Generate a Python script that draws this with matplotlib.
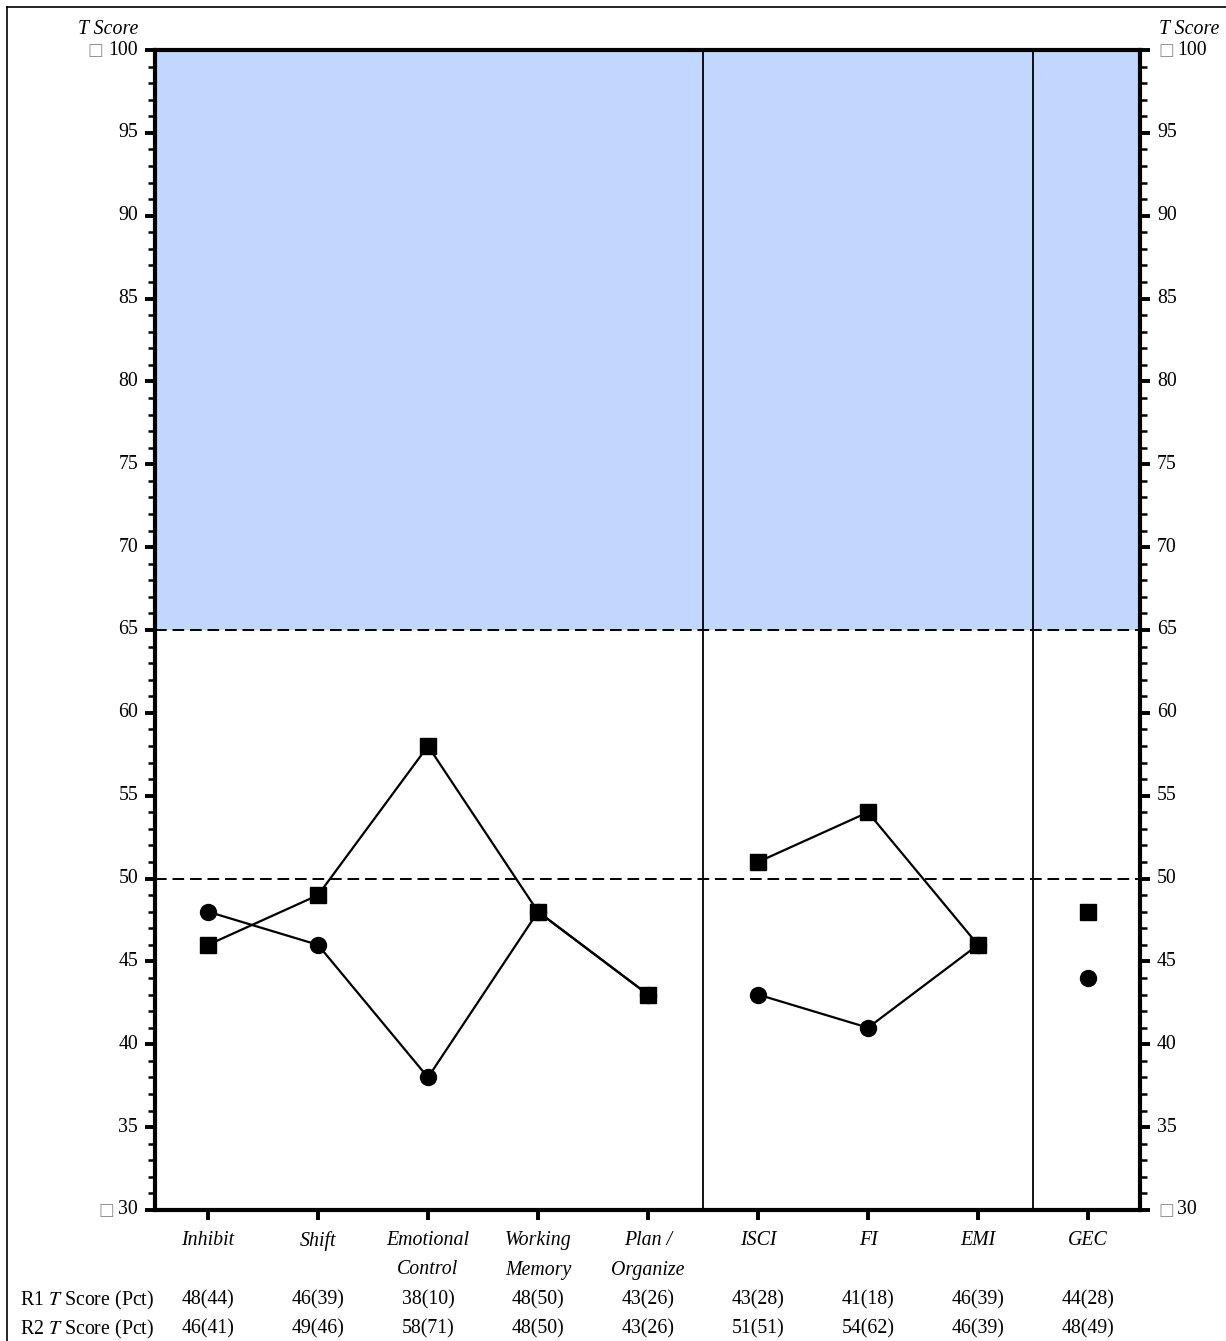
import matplotlib
matplotlib.use("Agg")
import matplotlib.pyplot as plt
from matplotlib.lines import Line2D
import matplotlib.transforms as mtransforms
import numpy as np

plt.rcParams['font.family'] = ['Liberation Serif', 'DejaVu Serif']

categories = ["Inhibit", "Shift", "Emotional\nControl", "Working\nMemory", "Plan /\nOrganize",
              "ISCI", "FI", "EMI", "GEC"]
groups = [[0, 1, 2, 3, 4], [5, 6, 7], [8]]
r1_t = [48, 46, 38, 48, 43, 43, 41, 46, 44]
r1_pct = [44, 39, 10, 50, 26, 28, 18, 39, 28]
r2_t = [46, 49, 58, 48, 43, 51, 54, 46, 48]
r2_pct = [41, 46, 71, 50, 26, 51, 62, 39, 49]
separators = [4.5, 7.5]
ref_lines = [65, 50]
shade_range = (65, 100)
y_range = (30, 100)
y_ticks = list(range(30, 101, 5))
boxed_ticks = [30, 100]

FS = 14.3
W, H = 1226, 1341
fig = plt.figure(figsize=(W / 100, H / 100), dpi=100)
ax = fig.add_axes([155 / W, 1 - 1210 / H, (1140 - 155) / W, (1210 - 50) / H])

x = np.arange(len(categories))
ax.set_xlim((155 - 208) / 110, (1140 - 208) / 110)
ax.set_ylim(*y_range)

ax.axhspan(shade_range[0], shade_range[1], color='#C1D7FD', zorder=0, lw=0)
for v in ref_lines:
    ax.axhline(v, color='black', lw=1.4, ls=(0, (6, 3)), zorder=1)
for s in separators:
    ax.axvline(s, color='black', lw=1.3, zorder=1)

for g in groups:
    gx = x[g]
    ax.plot(gx, np.array(r1_t)[g], color='black', lw=1.6, marker='o', ms=11.5, zorder=3)
    ax.plot(gx, np.array(r2_t)[g], color='black', lw=1.6, marker='s', ms=11, zorder=3)

for sp in ax.spines.values():
    sp.set_linewidth(3)

ax.set_yticks(y_ticks)
ax.set_yticks(range(30, 101), minor=True)
ax.tick_params(axis='y', which='major', direction='out', length=7, width=2.8,
               left=True, right=True, labelleft=False, labelright=False)
ax.tick_params(axis='y', which='minor', direction='out', length=5, width=1.8, left=True, right=True)
ax.set_xticks(x)
ax.set_xticklabels([])
ax.tick_params(axis='x', which='major', direction='out', length=7, width=2.8)

# y tick labels drawn manually (left & right)
trans_y = mtransforms.blended_transform_factory(fig.transFigure, ax.transData)
for v in y_ticks:
    ax.text(138 / W, v, str(v), transform=trans_y, ha='right', va='center', fontsize=FS)
    rx = 1177 / W if v in boxed_ticks else 1157 / W
    ax.text(rx, v, str(v), transform=trans_y, ha='left', va='center', fontsize=FS)
    if v in boxed_ticks:
        lx = (138 - 10 * len(str(v)) - 20) / W
        ax.text(lx, v, '\u25a1', transform=trans_y, ha='left', va='center', fontsize=12,
                color='#909090', family=['DejaVu Sans'])
        ax.text(1158 / W, v, '\u25a1', transform=trans_y, ha='left', va='center', fontsize=12,
                color='#909090', family=['DejaVu Sans'])

# category labels
trans_x = mtransforms.blended_transform_factory(ax.transData, fig.transFigure)
for i, c in enumerate(categories):
    ax.text(i, 1 - 1231 / H, c, transform=trans_x, ha='center', va='top', fontsize=FS,
            style='italic', linespacing=1.75)

# table rows
row_y = [1 - 1300 / H, 1 - 1329 / H]
for ry, t_vals, p_vals, name in [(row_y[0], r1_t, r1_pct, 'R1'), (row_y[1], r2_t, r2_pct, 'R2')]:
    fig.text(20 / W, ry, name + r' $\mathit{T}$ Score (Pct)', ha='left', va='center', fontsize=FS,
             math_fontfamily='stix')
    for i, (t, p) in enumerate(zip(t_vals, p_vals)):
        ax.text(i, ry, f"{t}({p})", transform=trans_x, ha='center', va='center', fontsize=FS)

# T Score headers
fig.text(138 / W, 1 - 30 / H, 'T Score', ha='right', va='center', fontsize=FS, style='italic')
fig.text(1159 / W, 1 - 30 / H, 'T Score', ha='left', va='center', fontsize=FS, style='italic')

# outer border (left and top)
fig.add_artist(Line2D([7 / W, 7 / W], [0, 1 - 7 / H], color='black', lw=1.2, transform=fig.transFigure))
fig.add_artist(Line2D([7 / W, 1], [1 - 7 / H, 1 - 7 / H], color='black', lw=1.2, transform=fig.transFigure))

fig.savefig('out.png', dpi=100)
